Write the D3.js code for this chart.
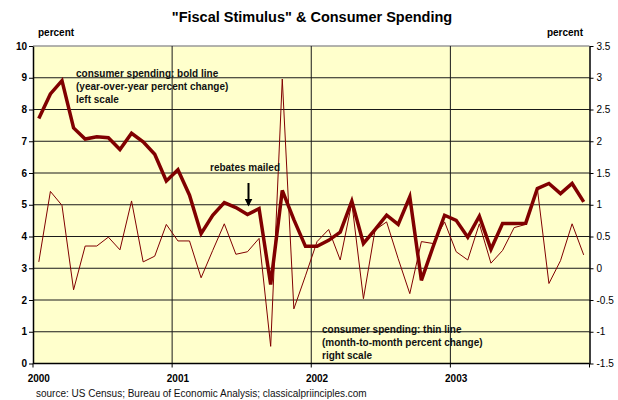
<!DOCTYPE html>
<html>
<head>
<meta charset="utf-8">
<script src="https://cdn.jsdelivr.net/npm/d3@7"></script>
<style>
  body { margin: 0; background: #fff; }
  text { font-family: "Liberation Sans", Arial, sans-serif; }
</style>
</head>
<body>
<div id="chart"></div>
<script>
// monthly categories Jan 2000 - Dec 2003
const months = [];
["2000", "2001", "2002", "2003"].forEach(y => {
  for (let m = 1; m <= 12; m++) months.push(y + "-" + String(m).padStart(2, "0"));
});
const yearLabels = ["2000", "2001", "2002", "2003"];

// bold line: year-over-year percent change (left scale)
const yoy = [7.72, 8.49, 8.91, 7.42, 7.07, 7.14, 7.11, 6.74, 7.25, 6.98, 6.59, 5.75,
             6.10, 5.30, 4.09, 4.67, 5.07, 4.91, 4.69, 4.88, 2.49, 5.45, 4.53, 3.69,
             3.69, 3.88, 4.14, 5.11, 3.78, 4.22, 4.67, 4.38, 5.25, 2.62, 3.67, 4.67,
             4.51, 3.98, 4.64, 3.60, 4.41, 4.41, 4.42, 5.51, 5.67, 5.35, 5.67, 5.09];

// thin line: month-to-month percent change (right scale)
const mom = [0.10, 1.21, 0.99, -0.34, 0.35, 0.35, 0.49, 0.29, 1.06, 0.10, 0.19, 0.69,
             0.43, 0.43, -0.15, 0.28, 0.70, 0.22, 0.26, 0.47, -1.23, 2.98, -0.64, -0.12,
             0.42, 0.61, 0.13, 1.03, -0.48, 0.60, 0.73, 0.15, -0.40, 0.42, 0.39, 0.73,
             0.26, 0.13, 0.70, 0.08, 0.28, 0.64, 0.69, 1.26, -0.24, 0.12, 0.70, 0.21];

const leftTicks = [0, 1, 2, 3, 4, 5, 6, 7, 8, 9, 10];
const rightTicks = [-1.5, -1, -0.5, 0, 0.5, 1, 1.5, 2, 2.5, 3, 3.5];

const W = 618, H = 400;
const plot = {left: 33, right: 589.5, top: 46, bottom: 363.5};
const red = "#800000";

const svg = d3.select("#chart").append("svg")
  .attr("width", W).attr("height", H);

const x = d3.scaleBand().domain(months).range([plot.left, plot.right]);
const xc = d => x(d) + x.bandwidth() / 2;
const yL = d3.scaleLinear().domain([0, 10]).range([plot.bottom, plot.top]);
const yR = d3.scaleLinear().domain([-1.5, 3.5]).range([plot.bottom, plot.top]);

// plot background
svg.append("rect")
  .attr("x", plot.left).attr("y", plot.top)
  .attr("width", plot.right - plot.left).attr("height", plot.bottom - plot.top)
  .attr("fill", "#ffffcc");

// horizontal gridlines
svg.append("g").selectAll("line")
  .data(leftTicks.filter(d => d > 0 && d < 10))
  .join("line")
  .attr("x1", plot.left).attr("x2", plot.right)
  .attr("y1", d => yL(d)).attr("y2", d => yL(d))
  .attr("stroke", "#1a1a1a").attr("stroke-width", 1);

// top border
svg.append("line")
  .attr("x1", plot.left).attr("x2", plot.right)
  .attr("y1", plot.top).attr("y2", plot.top)
  .attr("stroke", "#999").attr("stroke-width", 1.5);

// vertical year lines
svg.append("g").selectAll("line")
  .data(yearLabels.slice(1))
  .join("line")
  .attr("x1", d => x(d + "-01")).attr("x2", d => x(d + "-01"))
  .attr("y1", plot.top).attr("y2", plot.bottom)
  .attr("stroke", "#1a1a1a").attr("stroke-width", 1);

// left axis
const leftAxis = svg.append("g")
  .attr("transform", `translate(${plot.left},0)`)
  .call(d3.axisLeft(yL).tickValues(leftTicks).tickSize(4).tickSizeOuter(0));
leftAxis.select(".domain").attr("stroke", "#000").attr("stroke-width", 1.5);
leftAxis.selectAll("text").attr("font-size", 10).attr("font-weight", "bold")
  .attr("fill", "#000").attr("x", -6);

// right axis
const rightAxis = svg.append("g")
  .attr("transform", `translate(${plot.right},0)`)
  .call(d3.axisRight(yR).tickValues(rightTicks).tickSize(4).tickSizeOuter(0)
    .tickFormat(d => String(d)));
rightAxis.select(".domain").attr("stroke", "#000").attr("stroke-width", 1.5);
rightAxis.selectAll("text").attr("font-size", 10).attr("fill", "#000").attr("x", 7);

// bottom axis
svg.append("line")
  .attr("x1", plot.left).attr("x2", plot.right)
  .attr("y1", plot.bottom).attr("y2", plot.bottom)
  .attr("stroke", "#000").attr("stroke-width", 1.5);
const yearTickX = yearLabels.map(d => x(d + "-01")).concat([plot.right]);
svg.append("g").selectAll("line")
  .data(yearTickX)
  .join("line")
  .attr("x1", d => d).attr("x2", d => d)
  .attr("y1", plot.bottom).attr("y2", plot.bottom + 4)
  .attr("stroke", "#000");
svg.append("g").selectAll("text")
  .data(yearLabels)
  .join("text")
  .attr("x", d => xc(d + "-01"))
  .attr("y", 382)
  .attr("text-anchor", "middle")
  .attr("font-size", 10).attr("font-weight", "bold")
  .text(d => d);

// thin line (right scale)
svg.append("path")
  .datum(mom)
  .attr("fill", "none")
  .attr("stroke", red)
  .attr("stroke-width", 1)
  .attr("d", d3.line().x((d, i) => xc(months[i])).y(d => yR(d)));

// bold line (left scale)
svg.append("path")
  .datum(yoy)
  .attr("fill", "none")
  .attr("stroke", red)
  .attr("stroke-width", 3.5)
  .attr("stroke-linejoin", "miter")
  .attr("d", d3.line().x((d, i) => xc(months[i])).y(d => yL(d)));

// title and labels
svg.append("text")
  .attr("x", 312).attr("y", 22)
  .attr("text-anchor", "middle")
  .attr("font-size", 14.5).attr("font-weight", "bold")
  .text("\"Fiscal Stimulus\" & Consumer Spending");

svg.append("text").attr("x", 38).attr("y", 36)
  .attr("font-size", 10).attr("font-weight", "bold").text("percent");
svg.append("text").attr("x", 583).attr("y", 36).attr("text-anchor", "end")
  .attr("font-size", 10).attr("font-weight", "bold").text("percent");

function note(lines, x0, y0) {
  svg.append("g").selectAll("text")
    .data(lines)
    .join("text")
    .attr("x", x0)
    .attr("y", (d, i) => y0 + i * 13)
    .attr("font-size", 10).attr("font-weight", "bold")
    .attr("fill", "#111")
    .text(d => d);
}
note(["consumer spending: bold line", "(year-over-year percent change)", "left scale"], 76, 77);
note(["consumer spending: thin line", "(month-to-month percent change)", "right scale"], 322, 333);
note(["rebates mailed"], 210, 171);

// arrow
svg.append("defs").append("marker")
  .attr("id", "arrow")
  .attr("viewBox", "0 0 10 10")
  .attr("refX", 8).attr("refY", 5)
  .attr("markerWidth", 4).attr("markerHeight", 4)
  .attr("orient", "auto")
  .append("path").attr("d", "M0,0L10,5L0,10z").attr("fill", "#000");
svg.append("line")
  .attr("x1", 248.5).attr("x2", 248.5)
  .attr("y1", 183).attr("y2", 205)
  .attr("stroke", "#000").attr("stroke-width", 2)
  .attr("marker-end", "url(#arrow)");

svg.append("text")
  .attr("x", 36).attr("y", 397)
  .attr("font-size", 10).attr("fill", "#111")
  .text("source: US Census; Bureau of Economic Analysis; classicalpriinciples.com");
</script>
</body>
</html>
